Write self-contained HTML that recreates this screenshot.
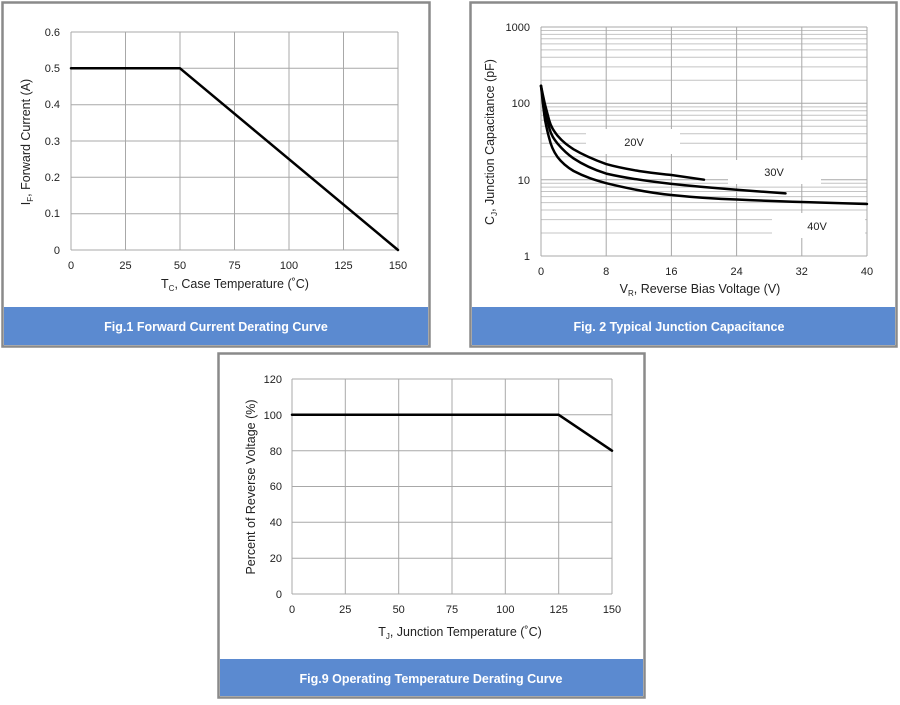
<!DOCTYPE html>
<html><head><meta charset="utf-8"><style>
body{margin:0;background:#fff;width:900px;height:700px;overflow:hidden}
svg text{font-family:"Liberation Sans",Arial,sans-serif;fill:#222}
.t{font-size:11px}
.g{stroke:#a8a8a8;stroke-width:1}
.m{stroke:#c4c4c4;stroke-width:1}
.c{fill:none;stroke:#000;stroke-width:2.5;stroke-linejoin:round;stroke-linecap:round}
.cap{fill:#fff;font-size:12.5px;font-weight:bold}
</style></head><body>
<svg width="900" height="700" viewBox="0 0 900 700" xmlns="http://www.w3.org/2000/svg">
<!-- Panel 1 -->
<rect x="2.5" y="2.5" width="427" height="344" fill="#fff" stroke="#8a8a8a" stroke-width="2.5"/>
<rect x="4" y="307" width="424" height="38" fill="#5b8ad0"/>
<text x="216" y="331" class="cap" text-anchor="middle">Fig.1 Forward Current Derating Curve</text>
<g class="g">
<line x1="71" y1="32" x2="398" y2="32"/><line x1="71" y1="68.3" x2="398" y2="68.3"/><line x1="71" y1="104.7" x2="398" y2="104.7"/><line x1="71" y1="141" x2="398" y2="141"/><line x1="71" y1="177.3" x2="398" y2="177.3"/><line x1="71" y1="213.7" x2="398" y2="213.7"/><line x1="71" y1="250" x2="398" y2="250"/>
<line x1="71" y1="32" x2="71" y2="250"/><line x1="125.5" y1="32" x2="125.5" y2="250"/><line x1="180" y1="32" x2="180" y2="250"/><line x1="234.5" y1="32" x2="234.5" y2="250"/><line x1="289" y1="32" x2="289" y2="250"/><line x1="343.5" y1="32" x2="343.5" y2="250"/><line x1="398" y1="32" x2="398" y2="250"/>
</g>
<polyline class="c" points="71,68.3 180,68.3 398,250"/>
<g class="t" text-anchor="end">
<text x="60" y="36">0.6</text><text x="60" y="72">0.5</text><text x="60" y="108">0.4</text><text x="60" y="145">0.3</text><text x="60" y="181">0.2</text><text x="60" y="217">0.1</text><text x="60" y="254">0</text>
</g>
<g class="t" text-anchor="middle">
<text x="71" y="269">0</text><text x="125.5" y="269">25</text><text x="180" y="269">50</text><text x="234.5" y="269">75</text><text x="289" y="269">100</text><text x="343.5" y="269">125</text><text x="398" y="269">150</text>
</g>
<text x="235" y="288" font-size="12.5" text-anchor="middle">T<tspan font-size="8" dy="3">C</tspan><tspan dy="-3">, Case Temperature (˚C)</tspan></text>
<text transform="translate(30,142) rotate(-90)" font-size="12.5" text-anchor="middle">I<tspan font-size="8" dy="3">F</tspan><tspan dy="-3">, Forward Current (A)</tspan></text>

<!-- Panel 2 -->
<rect x="470.5" y="2.5" width="426" height="344" fill="#fff" stroke="#8a8a8a" stroke-width="2.5"/>
<rect x="472" y="307" width="423" height="38" fill="#5b8ad0"/>
<text x="679" y="331" class="cap" text-anchor="middle">Fig. 2 Typical Junction Capacitance</text>
<g class="m">
<line x1="541" x2="867" y1="233" y2="233"/><line x1="541" x2="867" y1="219.6" y2="219.6"/><line x1="541" x2="867" y1="210" y2="210"/><line x1="541" x2="867" y1="202.6" y2="202.6"/><line x1="541" x2="867" y1="196.6" y2="196.6"/><line x1="541" x2="867" y1="191.5" y2="191.5"/><line x1="541" x2="867" y1="187.1" y2="187.1"/><line x1="541" x2="867" y1="183.2" y2="183.2"/>
<line x1="541" x2="867" y1="156.7" y2="156.7"/><line x1="541" x2="867" y1="143.3" y2="143.3"/><line x1="541" x2="867" y1="133.7" y2="133.7"/><line x1="541" x2="867" y1="126.3" y2="126.3"/><line x1="541" x2="867" y1="120.3" y2="120.3"/><line x1="541" x2="867" y1="115.2" y2="115.2"/><line x1="541" x2="867" y1="110.8" y2="110.8"/><line x1="541" x2="867" y1="106.9" y2="106.9"/>
<line x1="541" x2="867" y1="80.3" y2="80.3"/><line x1="541" x2="867" y1="66.9" y2="66.9"/><line x1="541" x2="867" y1="57.3" y2="57.3"/><line x1="541" x2="867" y1="49.9" y2="49.9"/><line x1="541" x2="867" y1="43.9" y2="43.9"/><line x1="541" x2="867" y1="38.8" y2="38.8"/><line x1="541" x2="867" y1="34.4" y2="34.4"/><line x1="541" x2="867" y1="30.5" y2="30.5"/>
</g>
<g class="g">
<line x1="541" x2="867" y1="256" y2="256"/><line x1="541" x2="867" y1="179.7" y2="179.7"/><line x1="541" x2="867" y1="103.3" y2="103.3"/><line x1="541" x2="867" y1="27" y2="27"/>
<line x1="541" x2="541" y1="27" y2="256"/><line x1="606.2" x2="606.2" y1="27" y2="256"/><line x1="671.4" x2="671.4" y1="27" y2="256"/><line x1="736.6" x2="736.6" y1="27" y2="256"/><line x1="801.8" x2="801.8" y1="27" y2="256"/><line x1="867" x2="867" y1="27" y2="256"/>
</g>
<rect x="586" y="129" width="94" height="25" fill="#fff"/>
<rect x="728" y="160" width="93" height="24" fill="#fff"/>
<rect x="772" y="213" width="93" height="25" fill="#fff"/>
<text x="634" y="146" class="t" text-anchor="middle">20V</text>
<text x="774" y="176" class="t" text-anchor="middle">30V</text>
<text x="817" y="230" class="t" text-anchor="middle">40V</text>
<path class="c" d="M541,85.8 C543,105 544,113 545.1,120.3 C547,130 548,134 549.2,138.1 C551,146 554,152 557.3,156.7 C562,163 567,167 573.6,171 C585,177 595,180 606.2,183.2 C630,189 650,193 671.4,195 C700,198 720,199 736.6,199.5 C770,201 785,201.5 801.8,202 C830,203 850,203.5 867,204"/>
<path class="c" d="M541,85.8 C543,99 544,105 545.1,110.7 C547,119 548,123 549.2,127.7 C551,135 554,139 557.3,143.3 C563,150 567,154 573.6,158.4 C585,166 595,170 606.2,173.6 C630,179 650,181.5 671.4,183.9 C700,187 720,188.5 736.6,189.7 C760,191.5 775,192.5 785.5,193.4"/>
<path class="c" d="M541,85.8 C543,96 544,100 545.1,105 C547,112 548,116 549.2,120.3 C551,127 554,131 557.3,135.4 C563,142 567,145 573.6,149.3 C585,156 595,160 606.2,164.1 C620,168 630,169.5 638.8,171 C655,173.5 662,174 671.4,175 C685,177 695,178.5 704,179.7"/>
<g class="t" text-anchor="end">
<text x="530" y="31">1000</text><text x="530" y="107">100</text><text x="530" y="184">10</text><text x="530" y="260">1</text>
</g>
<g class="t" text-anchor="middle">
<text x="541" y="275">0</text><text x="606.2" y="275">8</text><text x="671.4" y="275">16</text><text x="736.6" y="275">24</text><text x="801.8" y="275">32</text><text x="867" y="275">40</text>
</g>
<text x="700" y="293" font-size="12.5" text-anchor="middle">V<tspan font-size="8" dy="3">R</tspan><tspan dy="-3">, Reverse Bias Voltage (V)</tspan></text>
<text transform="translate(494,142) rotate(-90)" font-size="12.5" text-anchor="middle">C<tspan font-size="8" dy="3">J</tspan><tspan dy="-3">, Junction Capacitance (pF)</tspan></text>

<!-- Panel 3 -->
<rect x="218.5" y="353.5" width="426" height="344" fill="#fff" stroke="#8a8a8a" stroke-width="2.5"/>
<rect x="220" y="659" width="423" height="37" fill="#5b8ad0"/>
<text x="431" y="683" class="cap" text-anchor="middle">Fig.9 Operating Temperature Derating Curve</text>
<g class="g">
<line x1="292" x2="612" y1="379" y2="379"/><line x1="292" x2="612" y1="414.8" y2="414.8"/><line x1="292" x2="612" y1="450.7" y2="450.7"/><line x1="292" x2="612" y1="486.5" y2="486.5"/><line x1="292" x2="612" y1="522.3" y2="522.3"/><line x1="292" x2="612" y1="558.2" y2="558.2"/><line x1="292" x2="612" y1="594" y2="594"/>
<line x1="292" x2="292" y1="379" y2="594"/><line x1="345.3" x2="345.3" y1="379" y2="594"/><line x1="398.7" x2="398.7" y1="379" y2="594"/><line x1="452" x2="452" y1="379" y2="594"/><line x1="505.3" x2="505.3" y1="379" y2="594"/><line x1="558.7" x2="558.7" y1="379" y2="594"/><line x1="612" x2="612" y1="379" y2="594"/>
</g>
<polyline class="c" points="292,414.8 558.7,414.8 612,450.7"/>
<g class="t" text-anchor="end">
<text x="282" y="383">120</text><text x="282" y="419">100</text><text x="282" y="455">80</text><text x="282" y="490">60</text><text x="282" y="526">40</text><text x="282" y="562">20</text><text x="282" y="598">0</text>
</g>
<g class="t" text-anchor="middle">
<text x="292" y="613">0</text><text x="345.3" y="613">25</text><text x="398.7" y="613">50</text><text x="452" y="613">75</text><text x="505.3" y="613">100</text><text x="558.7" y="613">125</text><text x="612" y="613">150</text>
</g>
<text x="460" y="636" font-size="12.5" text-anchor="middle">T<tspan font-size="8" dy="3">J</tspan><tspan dy="-3">, Junction Temperature (˚C)</tspan></text>
<text transform="translate(255,487) rotate(-90)" font-size="12.5" text-anchor="middle">Percent of Reverse Voltage (%)</text>
</svg>
</body></html>
